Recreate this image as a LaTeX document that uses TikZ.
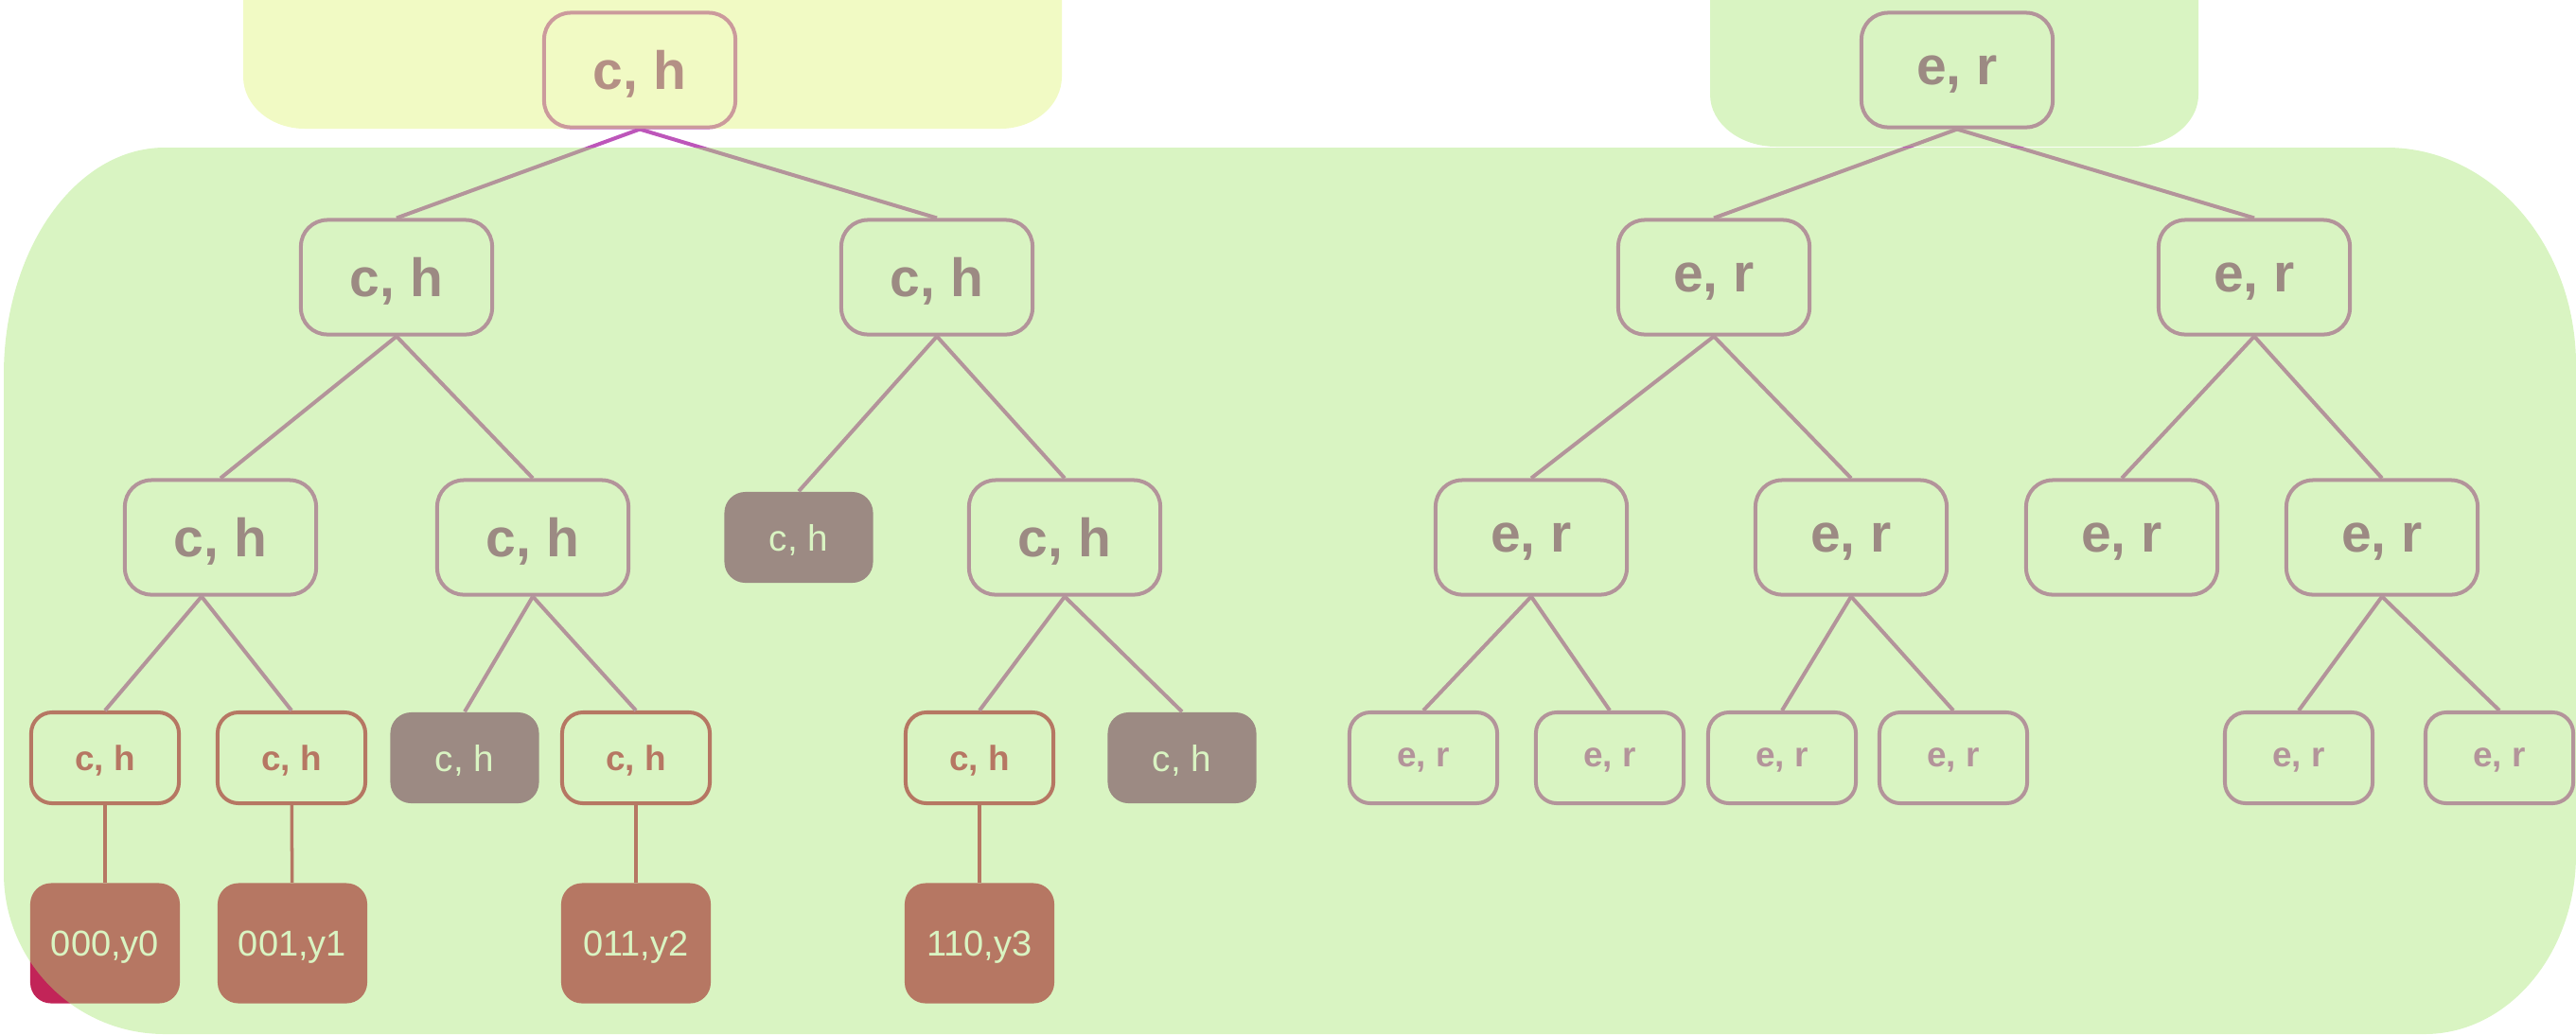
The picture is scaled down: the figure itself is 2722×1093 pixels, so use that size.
\documentclass[tikz,border=0pt]{standalone}
\usepackage{fontspec}
\setmainfont{Liberation Sans}
\usetikzlibrary{positioning}
\definecolor{edgemauve}{RGB}{189,86,186}
\definecolor{plum}{RGB}{148,69,145}
\definecolor{crimson}{RGB}{194,36,88}
\definecolor{panelgreen}{RGB}{167,230,114}
\definecolor{panelyellow}{RGB}{223,244,118}

\begin{document}
\begin{tikzpicture}[x=0.01cm,y=0.01cm,
  big/.style={draw=edgemauve, line width=1.14pt, rounded corners=0.28cm, minimum width=2.02cm, minimum height=1.21cm, text depth=0pt, text=plum, font=\fontsize{16.2}{18}\selectfont\bfseries},
  small/.style={draw=edgemauve, line width=1.14pt, rounded corners=0.22cm, minimum width=1.56cm, minimum height=0.96cm, text depth=0pt, text=edgemauve, font=\fontsize{10.5}{12}\selectfont\bfseries},
  hit/.style={small, draw=crimson, text=crimson},
  pruned/.style={fill=plum, rounded corners=0.22cm, minimum width=1.57cm, minimum height=0.96cm, text depth=0pt, text=white, font=\fontsize{11}{13}\selectfont},
  leaf/.style={fill=crimson, rounded corners=0.22cm, minimum width=1.58cm, minimum height=1.27cm, text depth=0pt, text=white, font=\fontsize{10.8}{13}\selectfont},
  branch/.style={edgemauve, line width=1.14pt},
  leafbranch/.style={crimson, line width=1pt},
  panel/.style={fill opacity=0.43}]
  \useasboundingbox (0,0) rectangle (2722,-1093);
  \clip (0,0) rectangle (2722,-1093);

  % c, h tree
  \node[big] (ch) at (676,-74) {c, h};
  \node[big] (chL) at (419,-293) {c, h};
  \node[big] (chR) at (990,-293) {c, h};
  \node[big] (chLL) at (233,-568) {c, h};
  \node[big] (chLR) at (563,-568) {c, h};
  \node[pruned] (chRL) at (844,-568) {c, h};
  \node[big] (chRR) at (1125,-568) {c, h};
  \node[hit] (chLLL) at (111,-801) {c, h};
  \node[hit] (chLLR) at (308,-801) {c, h};
  \node[pruned] (chLRL) at (491,-801) {c, h};
  \node[hit] (chLRR) at (672,-801) {c, h};
  \node[hit] (chRRL) at (1035,-801) {c, h};
  \node[pruned] (chRRR) at (1249,-801) {c, h};
  \node[leaf] (y0) at (111,-997) {000,y0};
  \node[leaf] (y1) at (309,-997) {001,y1};
  \node[leaf] (y2) at (672,-997) {011,y2};
  \node[leaf] (y3) at (1035,-997) {110,y3};

  \draw[branch] (ch.south) -- (chL.north);
  \draw[branch] (ch.south) -- (chR.north);
  \draw[branch] (chL.south) -- (chLL.north);
  \draw[branch] (chL.south) -- (chLR.north);
  \draw[branch] (chR.south) -- (chRL.north);
  \draw[branch] (chR.south) -- (chRR.north);
  \draw[branch] ([xshift=-0.2cm]chLL.south) -- (chLLL.north);
  \draw[branch] ([xshift=-0.2cm]chLL.south) -- (chLLR.north);
  \draw[branch] (chLR.south) -- (chLRL.north);
  \draw[branch] (chLR.south) -- (chLRR.north);
  \draw[branch] (chRR.south) -- (chRRL.north);
  \draw[branch] (chRR.south) -- (chRRR.north);
  \draw[leafbranch] (chLLL) -- (y0);
  \draw[leafbranch] (chLLR) -- (y1);
  \draw[leafbranch] (chLRR) -- (y2);
  \draw[leafbranch] (chRRL) -- (y3);

  % e, r tree
  \node[big] (er) at (2068,-74) {e, r};
  \node[big] (erL) at (1811,-293) {e, r};
  \node[big] (erR) at (2382,-293) {e, r};
  \node[big] (erLL) at (1618,-568) {e, r};
  \node[big] (erLR) at (1956,-568) {e, r};
  \node[big] (erRL) at (2242,-568) {e, r};
  \node[big] (erRR) at (2517,-568) {e, r};
  \node[small] (erLLL) at (1504,-801) {e, r};
  \node[small] (erLLR) at (1701,-801) {e, r};
  \node[small] (erLRL) at (1883,-801) {e, r};
  \node[small] (erLRR) at (2064,-801) {e, r};
  \node[small] (erRRL) at (2429,-801) {e, r};
  \node[small] (erRRR) at (2641,-801) {e, r};

  \draw[branch] (er.south) -- (erL.north);
  \draw[branch] (er.south) -- (erR.north);
  \draw[branch] (erL.south) -- (erLL.north);
  \draw[branch] (erL.south) -- (erLR.north);
  \draw[branch] (erR.south) -- (erRL.north);
  \draw[branch] (erR.south) -- (erRR.north);
  \draw[branch] (erLL.south) -- (erLLL.north);
  \draw[branch] (erLL.south) -- (erLLR.north);
  \draw[branch] (erLR.south) -- (erLRL.north);
  \draw[branch] (erLR.south) -- (erLRR.north);
  \draw[branch] (erRR.south) -- (erRRL.north);
  \draw[branch] (erRR.south) -- (erRRR.north);

  % translucent panels laid over the trees
  \fill[panelyellow, panel] (257,50) -- (257,-81) arc[start angle=180, end angle=270, x radius=65, y radius=55]
    -- (1057,-136) arc[start angle=270, end angle=360, x radius=65, y radius=55] -- (1122,50) -- cycle;
  \fill[panelgreen, panel] (1807,50) -- (1807,-100) arc[start angle=180, end angle=270, x radius=70, y radius=55]
    -- (2253,-155) arc[start angle=270, end angle=360, x radius=70, y radius=55] -- (2323,50) -- cycle;
  \fill[panelgreen, panel] (4,-396) arc[start angle=180, end angle=90, x radius=170, y radius=240]
    -- (2522,-156) arc[start angle=90, end angle=0, x radius=200, y radius=230]
    -- (2722,-903) arc[start angle=0, end angle=-90, x radius=160, y radius=190]
    -- (174,-1093) arc[start angle=270, end angle=180, x radius=170, y radius=170] -- cycle;
\end{tikzpicture}
\end{document}
